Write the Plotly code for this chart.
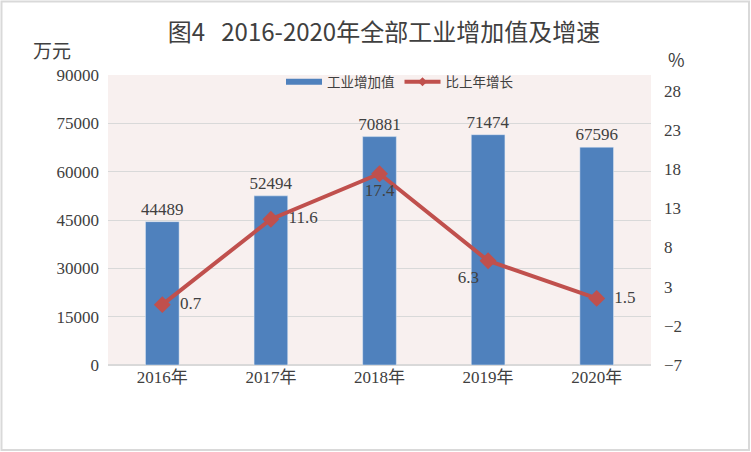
import plotly.graph_objects as go

# data
years = ["2016年", "2017年", "2018年", "2019年", "2020年"]
added_value = [44489, 52494, 70881, 71474, 67596]   # 万元
growth_rate = [0.7, 11.6, 17.4, 6.3, 1.5]           # %
left_ticks = [0, 15000, 30000, 45000, 60000, 75000, 90000]
right_ticks = [-7, -2, 3, 8, 13, 18, 23, 28]

W, H = 751, 452
ML, MR, MT, MB = 108, 100, 75, 87
PW, PH = W - ML - MR, H - MT - MB

def px_x(px):
    return (px - ML) / PW

def px_y(py):
    return (H - MB - py) / PH

serif = "Liberation Serif, Noto Sans CJK SC, serif"
sans = "Noto Sans CJK SC, sans-serif"
grey = "#404040"
blue = "#4F81BD"
red = "#C0504D"

label_pos = ["middle right", "middle right", "bottom center", "bottom left", "middle right"]
pad = "\u00a0\u00a0"
rate_text = [(pad + str(v)) if p == "middle right" else str(v)
             for v, p in zip(growth_rate, label_pos)]

fig = go.Figure()

fig.add_trace(go.Bar(
    x=years, y=added_value,
    name="工业增加值",
    marker_color=blue,
    width=0.31,
    text=added_value,
    textposition="outside",
    constraintext="none",
    textfont=dict(family=serif, size=17, color=grey),
    cliponaxis=False,
    showlegend=False,
))

fig.add_trace(go.Scatter(
    x=years, y=growth_rate,
    name="比上年增长",
    yaxis="y2",
    mode="lines+markers+text",
    line=dict(color=red, width=4),
    marker=dict(symbol="diamond", size=13, color=red),
    text=rate_text,
    textposition=label_pos,
    textfont=dict(family=serif, size=17, color=grey),
    cliponaxis=False,
    showlegend=False,
))

# legend-only entries, styled like the original legend swatches
fig.add_trace(go.Scatter(
    x=[None], y=[None],
    name="工业增加值",
    mode="lines",
    line=dict(color=blue, width=6),
))
fig.add_trace(go.Scatter(
    x=[None], y=[None],
    name="比上年增长",
    mode="lines+markers",
    line=dict(color=red, width=4),
    marker=dict(symbol="diamond", size=7, color=red),
))

fig.update_layout(
    width=W, height=H,
    margin=dict(l=ML, r=MR, t=MT, b=MB),
    paper_bgcolor="white",
    plot_bgcolor="#F8F0EF",
    title=dict(
        text="图4\u00a0\u00a0 2016-2020年全部工业增加值及增速",
        x=px_x(384), xref="paper", xanchor="center",
        y=1 - 33 / H, yanchor="middle",
        font=dict(family=sans, size=24, color="#404040"),
    ),
    showlegend=True,
    legend=dict(
        orientation="h",
        x=px_x(400), xanchor="center",
        y=px_y(82), yanchor="middle",
        bgcolor="rgba(0,0,0,0)",
        font=dict(family=sans, size=13.5, color=grey),
        itemwidth=36,
        tracegroupgap=0,
    ),
    xaxis=dict(
        tickfont=dict(family=serif, size=17, color=grey),
        showgrid=False,
        showline=False,
        ticks="",
    ),
    yaxis=dict(
        range=[0, 90000],
        tickvals=left_ticks,
        tickformat="d",
        tickfont=dict(family=serif, size=17, color=grey),
        gridcolor="#D9D9D9",
        gridwidth=1,
        zeroline=True,
        zerolinecolor="#D9D9D9",
        zerolinewidth=1.5,
        ticklabelstandoff=8,
    ),
    yaxis2=dict(
        overlaying="y",
        side="right",
        range=[-7, 30],
        tickvals=right_ticks,
        tickfont=dict(family=serif, size=17, color=grey),
        showgrid=False,
        zeroline=False,
        ticklabelstandoff=12,
    ),
    shapes=[dict(
        type="rect", xref="paper", yref="paper",
        x0=px_x(1.5), x1=px_x(749), y0=px_y(450), y1=px_y(1.5),
        line=dict(color="#D9D9D9", width=2),
        fillcolor="rgba(0,0,0,0)",
        layer="below",
    )],
    annotations=[
        dict(text="万元", xref="paper", yref="paper", x=px_x(52), y=px_y(50),
             xanchor="center", yanchor="middle",
             showarrow=False, font=dict(family=sans, size=19, color=grey)),
        dict(text="%", xref="paper", yref="paper", x=px_x(676), y=px_y(59),
             xanchor="center", yanchor="middle",
             showarrow=False, font=dict(family=sans, size=18, color=grey)),
    ],
)

fig.write_html("out.html", config={"displayModeBar": False},
               post_script="document.body.style.margin='0';")
